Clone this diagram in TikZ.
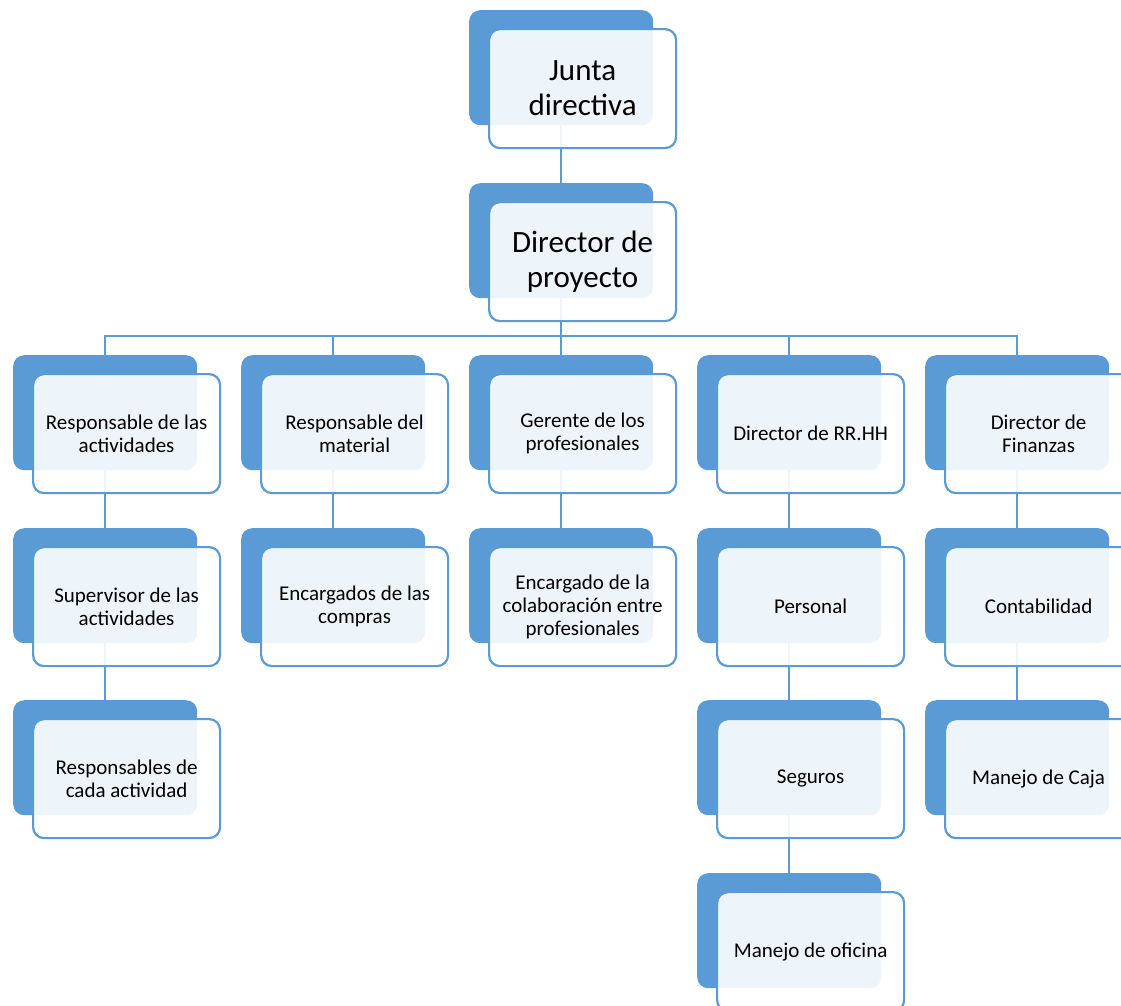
\documentclass[tikz,border=0pt]{standalone}
\usepackage{fontspec}
\setmainfont{Carlito}
\usetikzlibrary{backgrounds}
\definecolor{accent}{HTML}{5B9BD5}
\tikzset{
  backbox/.style={fill=accent, draw=none, rounded corners=11pt, minimum width=184pt, minimum height=115pt, anchor=north west, inner sep=0pt},
  frontbox/.style={draw=accent, line width=2.2pt, fill=white, fill opacity=0.9, text opacity=1, rounded corners=11pt, minimum width=187pt, minimum height=119pt, anchor=north west, inner sep=0pt, align=center, font=\fontsize{21}{23}\selectfont},
  bigtext/.style={font=\fontsize{31}{35}\selectfont},
  link/.style={draw=accent, line width=2pt},
}
\begin{document}
\begin{tikzpicture}[x=1pt,y=-1pt]
\useasboundingbox (0,0) rectangle (1121,1005);
\clip (0,0) rectangle (1121,1005);
% top
\node[backbox] (bJ) at (469,10) {};
\node[frontbox,bigtext] (fJ) at (488,28) {Junta\\directiva};
\node[backbox] (bD) at (469,183) {};
\node[frontbox,bigtext] (fD) at (488,201) {Director de\\proyecto};
% row 1
\node[backbox] (b1) at (13,355) {};
\node[frontbox] (f1) at (32,373) {Responsable de las\\actividades};
\node[backbox] (b2) at (241,355) {};
\node[frontbox] (f2) at (260,373) {Responsable del\\material};
\node[backbox] (b3) at (469,355) {};
\node[frontbox] (f3) at (488,373) {Gerente de los\\profesionales};
\node[backbox] (b4) at (697,355) {};
\node[frontbox] (f4) at (716,373) {Director de RR.HH};
\node[backbox] (b5) at (925,355) {};
\node[frontbox] (f5) at (944,373) {Director de\\Finanzas};
% row 2
\node[backbox] (b12) at (13,528) {};
\node[frontbox] (f12) at (32,546) {Supervisor de las\\actividades};
\node[backbox] (b22) at (241,528) {};
\node[frontbox] (f22) at (260,546) {Encargados de las\\compras};
\node[backbox] (b32) at (469,528) {};
\node[frontbox] (f32) at (488,546) {Encargado de la\\colaboración entre\\profesionales};
\node[backbox] (b42) at (697,528) {};
\node[frontbox] (f42) at (716,546) {Personal};
\node[backbox] (b52) at (925,528) {};
\node[frontbox] (f52) at (944,546) {Contabilidad};
% row 3
\node[backbox] (b13) at (13,700) {};
\node[frontbox] (f13) at (32,718) {Responsables de\\cada actividad};
\node[backbox] (b43) at (697,700) {};
\node[frontbox] (f43) at (716,718) {Seguros};
\node[backbox] (b53) at (925,700) {};
\node[frontbox] (f53) at (944,718) {Manejo de Caja};
% row 4
\node[backbox] (b44) at (697,873) {};
\node[frontbox] (f44) at (716,891) {Manejo de oficina};
\begin{scope}[on background layer]
\fill[white] (0,0) rectangle (1121,1005);
\coordinate (busy) at (0,336);
\draw[link] (bJ.south) -- (bD.north);
\draw[link] (bD.south) -- (bD.south |- busy);
\draw[link] (b1.north) -- (b1.north |- busy) -- (b5.north |- busy) -- (b5.north);
\draw[link] (b2.north) -- (b2.north |- busy);
\draw[link] (b3.north) -- (b3.north |- busy);
\draw[link] (b4.north) -- (b4.north |- busy);
\draw[link] (b1.south) -- (b12.north);
\draw[link] (b12.south) -- (b13.north);
\draw[link] (b2.south) -- (b22.north);
\draw[link] (b3.south) -- (b32.north);
\draw[link] (b4.south) -- (b42.north);
\draw[link] (b42.south) -- (b43.north);
\draw[link] (b43.south) -- (b44.north);
\draw[link] (b5.south) -- (b52.north);
\draw[link] (b52.south) -- (b53.north);
\end{scope}
\end{tikzpicture}
\end{document}
